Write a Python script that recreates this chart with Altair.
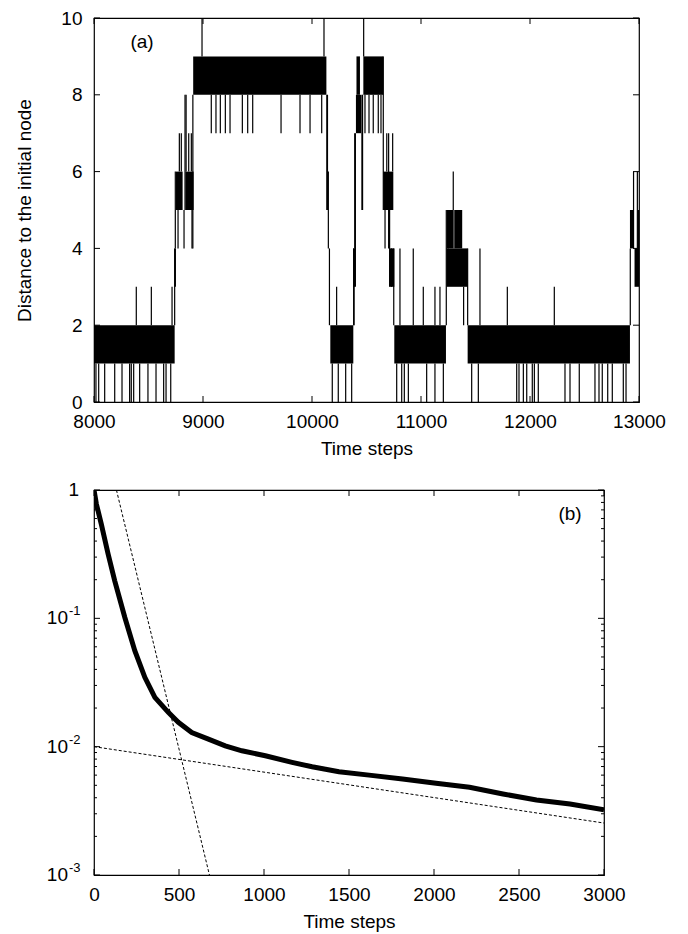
import altair as alt
import pandas as pd

FONT = "Liberation Sans"

# ---------------- Panel (a): distance to the initial node ----------------
# dense oscillation bands (time start, time end, lower level, upper level)
block_start = [8000, 8738, 8752, 8838, 8910, 10168, 10379, 10403, 10408, 10471,
               10654, 10712, 10755, 11236, 11305, 11234, 11428, 12917, 12959, 12988]
block_end = [8740, 8752, 8813, 8914, 10132, 10379, 10395, 10450, 10440, 10654,
             10746, 10755, 11229, 11300, 11378, 11428, 12917, 12950, 13000, 13000]
block_low = [1, 3, 5, 5, 8, 1, 3, 7, 8, 8, 5, 3, 1, 4, 4, 3, 1, 4, 3, 4]
block_high = [2, 4, 6, 6, 9, 2, 4, 8, 9, 9, 6, 4, 2, 5, 5, 4, 2, 5, 4, 5]

# isolated excursions (time, from level, to level)
down_to_0 = [8018, 8043, 8098, 8190, 8257, 8327, 8342, 8364, 8419, 8495, 8569, 8639,
             8661, 8704, 10186, 10241, 10309, 10364, 10777, 10823, 10847, 10884,
             11052, 11128, 11205, 11465, 11526, 11878, 11899, 11939, 11970, 12021,
             12040, 12076, 12321, 12367, 12452, 12596, 12633, 12663, 12713, 12755,
             12856, 12881]
up_to_3 = [8388, 8526, 8716, 10226, 11021, 11128, 11174, 11792, 12223]
up_to_4 = [10807, 10929, 11541]
down_to_7 = [9076, 9119, 9159, 9205, 9248, 9361, 9410, 9456, 9716, 9890, 9982,
             10089, 10486, 10523, 10562, 10608, 10633]
up_to_10 = [8991, 10110, 10474]
jump_t = [8740, 8746, 8771, 8783, 8801, 8826, 8835, 8845, 8869, 8893, 8899, 8907,
          10136, 10142, 10150, 10160, 10382, 10386, 10392, 10398, 10458, 10464,
          10654, 10670, 10686, 10703, 10712, 10730, 10740, 10750,
          11232, 11250, 11296, 11391, 11428, 12920, 12950, 12985]
jump_from = [2, 4, 4, 6, 6, 4, 5, 6, 6, 6, 4, 4,
             5, 5, 4, 2, 2, 2, 4, 3, 5, 5,
             5, 4, 6, 4, 3, 3, 6, 2,
             2, 4, 5, 2, 2, 2, 4, 4]
jump_to = [4, 6, 5, 7, 7, 5, 8, 8, 7, 7, 5, 8,
           8, 8, 6, 4, 4, 4, 7, 7, 8, 8,
           9, 5, 7, 7, 5, 4, 7, 4,
           5, 5, 6, 3, 4, 4, 6, 6]

x_ticks_a = [8000, 9000, 10000, 11000, 12000, 13000]
y_ticks_a = [0, 2, 4, 6, 8, 10]

# ---------------- Panel (b): decay curve ----------------
decay_t = [0, 14, 43, 83, 122, 181, 240, 299, 358, 437, 496, 575, 673, 772, 870,
           1008, 1165, 1283, 1441, 1618, 1815, 2012, 2209, 2406, 2603, 2800, 3000]
decay_p = [1.0, 0.778, 0.543, 0.317, 0.196, 0.102, 0.056, 0.0347, 0.0242, 0.0185,
           0.0155, 0.0129, 0.01146, 0.01016, 0.00929, 0.00849, 0.00755, 0.00697,
           0.00637, 0.0060, 0.0056, 0.00518, 0.00482, 0.00428, 0.00384, 0.00357,
           0.00322]
fast_fit_t = [132, 679]
fast_fit_p = [1.0, 0.001]
slow_fit_t = [0, 3000]
slow_fit_p = [0.01, 0.00254]

x_ticks_b = [0, 500, 1000, 1500, 2000, 2500, 3000]
y_major_b = [1, 0.1, 0.01, 0.001]
y_minor_b = [0.002, 0.003, 0.004, 0.005, 0.006, 0.007, 0.008, 0.009,
             0.02, 0.03, 0.04, 0.05, 0.06, 0.07, 0.08, 0.09,
             0.2, 0.3, 0.4, 0.5, 0.6, 0.7, 0.8, 0.9]
y_label_one = ["1"]
y_label_base = ["10", "10", "10"]
y_label_exp = ["-1", "-2", "-3"]

# ---------------- tables ----------------
blocks = pd.DataFrame({"start": block_start, "end": block_end,
                       "low": block_low, "high": block_high})
jt, jf, jto = [], [], []
for ts, a, b in [(down_to_0, 0, 1), (up_to_3, 2, 3), (up_to_4, 2, 4),
                 (down_to_7, 7, 8), (up_to_10, 9, 10)]:
    jt += ts
    jf += [a] * len(ts)
    jto += [b] * len(ts)
jt += jump_t
jf += jump_from
jto += jump_to
jumps = pd.DataFrame({"t": jt, "y1": jf, "y2": jto})

W_A, H_A = 545, 384
W_B, H_B = 510, 385
TK = 6

xs_a = alt.Scale(domain=[8000, 13000], nice=False, zero=False)
ys_a = alt.Scale(domain=[0, 10], nice=False)
x_axis_a = alt.Axis(values=x_ticks_a, ticks=False, tickSize=0, domain=False, grid=False,
                    labelPadding=10, format="d", title="Time steps", titlePadding=8)
y_axis_a = alt.Axis(values=y_ticks_a, ticks=False, tickSize=0, domain=False, grid=False,
                    labelPadding=12, title="Distance to the initial node", titlePadding=26)


def XA(f):
    return alt.X(f, type="quantitative", scale=xs_a, axis=x_axis_a)


def YA(f):
    return alt.Y(f, type="quantitative", scale=ys_a, axis=y_axis_a)


rects = alt.Chart(blocks).mark_rect(color="black", strokeWidth=0).encode(
    x=XA("start"), x2="end", y=YA("low"), y2="high")
spikes = alt.Chart(jumps).mark_rule(color="black", strokeWidth=1.2).encode(
    x=XA("t"), y=YA("y1"), y2="y2")

xt_a = pd.DataFrame({"v": x_ticks_a})
yt_a = pd.DataFrame({"v": y_ticks_a})
tick_layers_a = [
    alt.Chart(xt_a).mark_rule(color="black").encode(x=XA("v"), y=alt.value(H_A), y2=alt.value(H_A - TK)),
    alt.Chart(xt_a).mark_rule(color="black").encode(x=XA("v"), y=alt.value(0), y2=alt.value(TK)),
    alt.Chart(yt_a).mark_rule(color="black").encode(y=YA("v"), x=alt.value(0), x2=alt.value(TK)),
    alt.Chart(yt_a).mark_rule(color="black").encode(y=YA("v"), x=alt.value(W_A), x2=alt.value(W_A - TK)),
]
label_a = alt.Chart(pd.DataFrame({"s": ["(a)"]})).mark_text(
    font=FONT, fontSize=19, color="black").encode(
    text="s:N", x=alt.value(48), y=alt.value(24))

panel_a = alt.layer(rects, spikes, *tick_layers_a, label_a).properties(width=W_A, height=H_A)

# panel b
xs_b = alt.Scale(domain=[0, 3000], nice=False, zero=False)
ys_b = alt.Scale(type="log", domain=[0.001, 1], nice=False)
x_axis_b = alt.Axis(values=x_ticks_b, ticks=False, tickSize=0, domain=False, grid=False,
                    labelPadding=10, format="d", title="Time steps", titlePadding=8)
y_axis_b = alt.Axis(values=y_major_b, ticks=False, tickSize=0, domain=False, grid=False,
                    labels=False, title=None)


def XB(f):
    return alt.X(f, type="quantitative", scale=xs_b, axis=x_axis_b)


def YB(f):
    return alt.Y(f, type="quantitative", scale=ys_b, axis=y_axis_b)


curve = alt.Chart(pd.DataFrame({"t": decay_t, "p": decay_p})).mark_line(
    color="black", strokeWidth=5, clip=True).encode(x=XB("t"), y=YB("p"))
fits = pd.DataFrame({"t": fast_fit_t + slow_fit_t, "p": fast_fit_p + slow_fit_p,
                     "fit": ["fast"] * 2 + ["slow"] * 2})
fit_lines = alt.Chart(fits).mark_line(color="black", strokeWidth=1, strokeDash=[3, 2],
                                      clip=True).encode(x=XB("t"), y=YB("p"), detail="fit:N")

xt_b = pd.DataFrame({"v": x_ticks_b})
ymaj = pd.DataFrame({"v": y_major_b})
ymin = pd.DataFrame({"v": y_minor_b})
tick_layers_b = [
    alt.Chart(xt_b).mark_rule(color="black").encode(x=XB("v"), y=alt.value(H_B), y2=alt.value(H_B - TK)),
    alt.Chart(xt_b).mark_rule(color="black").encode(x=XB("v"), y=alt.value(0), y2=alt.value(TK)),
    alt.Chart(ymaj).mark_rule(color="black").encode(y=YB("v"), x=alt.value(0), x2=alt.value(TK)),
    alt.Chart(ymaj).mark_rule(color="black").encode(y=YB("v"), x=alt.value(W_B), x2=alt.value(W_B - TK)),
    alt.Chart(ymin).mark_rule(color="black").encode(y=YB("v"), x=alt.value(0), x2=alt.value(3)),
    alt.Chart(ymin).mark_rule(color="black").encode(y=YB("v"), x=alt.value(W_B), x2=alt.value(W_B - 3)),
]
one_lab = alt.Chart(pd.DataFrame({"v": [1], "s": y_label_one})).mark_text(
    font=FONT, fontSize=19, align="right", baseline="middle", color="black").encode(
    y=YB("v"), x=alt.value(-15), text="s:N")
base_lab = alt.Chart(pd.DataFrame({"v": y_major_b[1:], "s": y_label_base})).mark_text(
    font=FONT, fontSize=19, align="right", baseline="middle", color="black").encode(
    y=YB("v"), x=alt.value(-26), text="s:N")
exp_lab = alt.Chart(pd.DataFrame({"v": y_major_b[1:], "s": y_label_exp})).mark_text(
    font=FONT, fontSize=13, align="left", baseline="middle", dy=-7, color="black").encode(
    y=YB("v"), x=alt.value(-25), text="s:N")
label_b = alt.Chart(pd.DataFrame({"s": ["(b)"]})).mark_text(
    font=FONT, fontSize=19, color="black").encode(
    text="s:N", x=alt.value(476), y=alt.value(24))

panel_b = alt.layer(curve, fit_lines, *tick_layers_b, one_lab, base_lab, exp_lab,
                    label_b).properties(width=W_B, height=H_B)

chart = alt.vconcat(panel_a, panel_b, spacing=88, bounds="flush").properties(
    padding={"left": 7, "top": 0, "right": 10, "bottom": 2}
).configure_view(stroke="black", strokeWidth=1.2).configure_axis(
    labelFont=FONT, titleFont=FONT, labelFontSize=19, titleFontSize=19,
    labelColor="black", titleColor="black", titleFontWeight="normal",
    labelFlush=False
)

chart.save("out.html", embed_options={"renderer": "svg", "actions": False})
